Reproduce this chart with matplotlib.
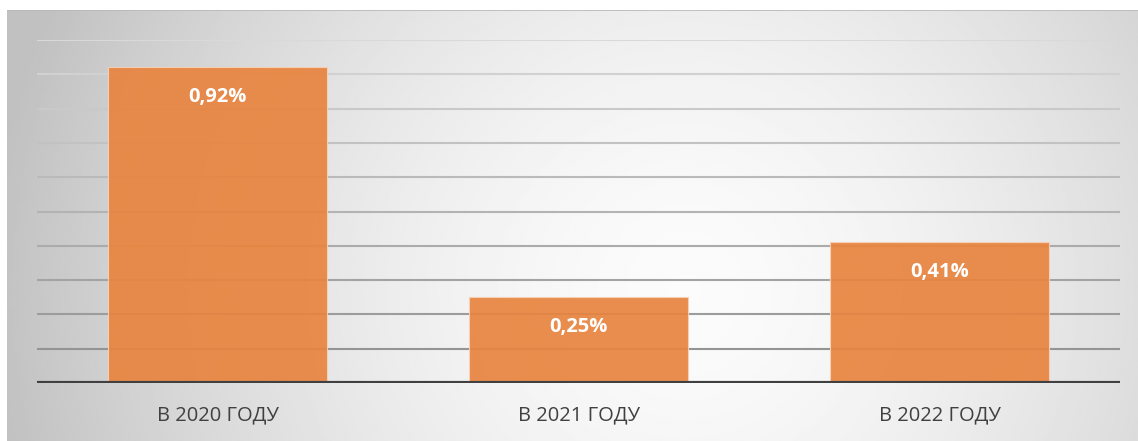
import numpy as np
import matplotlib
matplotlib.use("Agg")
import matplotlib.pyplot as plt

categories = ["В 2020 ГОДУ", "В 2021 ГОДУ", "В 2022 ГОДУ"]
values = [0.92, 0.25, 0.41]
labels = ["0,92%", "0,25%", "0,41%"]

W, H = 1138, 441
fig = plt.figure(figsize=(W / 100, H / 100), dpi=100)
fig.patch.set_facecolor("white")

# gray radial-gradient panel behind the chart
bg = fig.add_axes([7 / W, 0, 1 - 7 / W, 1 - 10 / H])
yy, xx = np.mgrid[0:1:200j, 0:1:400j]
r = np.sqrt(((xx - 0.6) / 0.62) ** 2 + ((yy - 0.65) / 1.6) ** 2)
r = np.clip(r, 0, 1)
shade = 0.985 - 0.23 * r ** 1.6
bg.imshow(shade, cmap="gray", vmin=0, vmax=1, aspect="auto",
          extent=[0, 1, 0, 1], interpolation="bilinear")
bg.set_xlim(0, 1)
bg.set_ylim(0, 1)
bg.axis("off")
bg.axhline(0.999, color="#b8b8b8", lw=1.2)

ax = fig.add_axes([37 / W, (H - 383) / H, (1120 - 37) / W, (383 - 40) / H])
ax.set_facecolor("none")
x = np.arange(len(categories))
ax.set_xlim(-0.5, len(categories) - 0.5)
ax.set_ylim(0, 1.0)

# gridlines, darker towards the bottom
for v in np.arange(0.1, 1.01, 0.1):
    c = 0.55 + 0.3 * v
    ax.axhline(v, color=(c, c, c), lw=1.5, zorder=1)

bars = ax.bar(x, values, width=0.607, color="#E8843F", alpha=0.92,
              edgecolor="#f6d2b8", linewidth=0.8, zorder=2)
ax.axhline(0, color="#404040", lw=3, zorder=3)

for b, lab in zip(bars, labels):
    ax.annotate(lab, (b.get_x() + b.get_width() / 2, b.get_height()),
                xytext=(0, -30), textcoords="offset pixels",
                ha="center", va="center", color="white",
                fontsize=14.5, fontweight="bold", family="Open Sans", zorder=4)

ax.set_xticks(x)
ax.set_xticklabels(categories, fontsize=14.5, color="#404040", family="Open Sans")
ax.tick_params(axis="x", length=0, pad=16)
ax.set_yticks([])
for s in ax.spines.values():
    s.set_visible(False)

fig.savefig("out.png", dpi=100)
